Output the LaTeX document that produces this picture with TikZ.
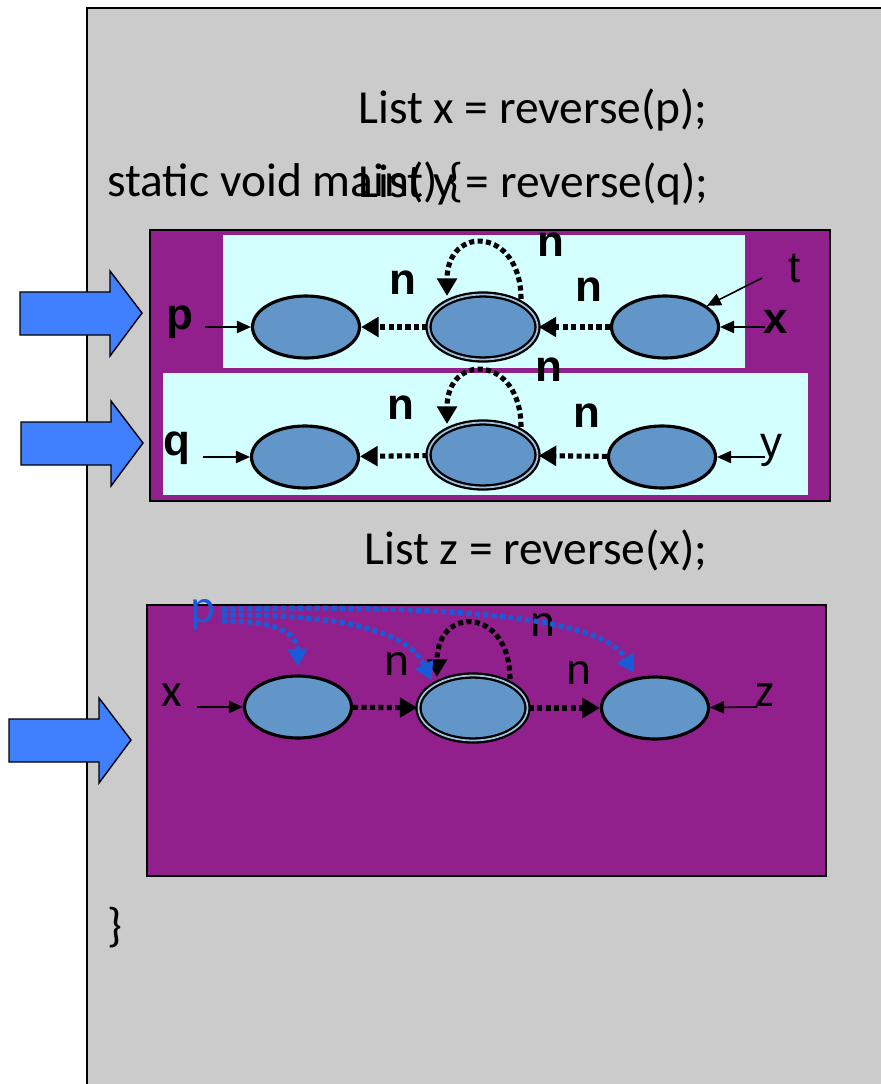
\documentclass[tikz,border=0pt]{standalone}
\usepackage{fontspec}
\setmainfont{Carlito}
\newfontfamily\lblfont{Liberation Sans}
\usetikzlibrary{positioning, arrows.meta, calc, shapes.geometric}

\definecolor{paneGray}{RGB}{203,203,203}
\definecolor{scopePurple}{RGB}{146,32,140}
\definecolor{heapCyan}{RGB}{212,255,255}
\definecolor{cellBlue}{RGB}{98,150,200}
\definecolor{stepBlue}{RGB}{64,128,255}
\definecolor{ptrBlue}{RGB}{25,90,215}

\begin{document}
\begin{tikzpicture}[x=0.02cm, y=0.02cm,
  code/.style   = {font=\fontsize{27}{32}\selectfont, inner sep=0pt, anchor=west},
  lbl/.style    = {font=\lblfont\bfseries\fontsize{25}{30}\selectfont, inner sep=0pt},
  thin/.style   = {font=\fontsize{27}{32}\selectfont, inner sep=0pt},
  cell/.style   = {ellipse, draw, line width=1.8pt, fill=cellBlue, inner sep=0pt,
                   minimum width=2.14cm, minimum height=1.24cm},
  shared/.style = {cell, line width=1.3pt, double=cellBlue!60!white, double distance=1pt,
                   minimum width=2.18cm, minimum height=1.3cm},
  ptr/.style    = {-{Triangle[length=10pt,width=11pt]}, line width=2.9pt,
                   dash pattern=on 2.9pt off 1.9pt},
  ref/.style    = {-{Triangle[length=8pt,width=7pt]}, line width=0.9pt},
  bigarrow/.style = {draw, line width=0.8pt, fill=stepBlue},
]
\useasboundingbox (0,0) rectangle (881,-1084);

% --- frame ---------------------------------------------------------------
\fill[paneGray] (87,-8) rectangle (881,-1084);
\draw[line width=0.8pt] (881,-8) -- (87,-8) -- (87,-1084);

% --- code ----------------------------------------------------------------
\node[code] (lx)    at (358,-110) {List x = reverse(p);};
\node[code] (main)  at (107,-182) {static void main() \{};
\node[code] (ly)    at (358,-184) {List y = reverse(q);};
\node[code] (lz)    at (364,-550) {List z = reverse(x);};
\node[code] (close) at (107,-928) {\}};

% --- scopes --------------------------------------------------------------
\draw[fill=scopePurple, line width=0.8pt] (150,-230) rectangle (830,-501);
\fill[heapCyan] (223,-235) rectangle (745,-368);
\fill[heapCyan] (163,-373) rectangle (808,-495);
\draw[fill=scopePurple, line width=0.8pt] (147,-605) rectangle (826,-876);

\foreach \tx/\ty in {142/313, 143/443, 131/740}
  \draw[bigarrow] (\tx,-\ty) -- ++(-32,42) -- ++(0,-21) -- ++(-90,0)
    -- ++(0,-43) -- ++(90,0) -- ++(0,-21) -- cycle;

% --- first list ----------------------------------------------------------
\node[cell]   (a1) at (306,-327) {};
\node[shared] (b1) at (483,-327) {};
\node[cell]   (c1) at (665,-327) {};

\node[lbl] (p1) at (180,-322) {p};
\node[lbl] (x1) at (776,-322) {x};
\node[lbl, font=\lblfont\fontsize{25}{30}\selectfont] (t1) at (795,-268) {t};
\coordinate (p1s) at (205,-327);
\coordinate (x1s) at (765,-327);
\coordinate (t1s) at (762,-278);
\draw[ref] (p1s) -- (a1);
\draw[ref] (x1s) -- (c1);
\draw[ref] (t1s) -- (c1);

\draw[ptr] (b1) -- node[lbl, above=17pt, pos=0.37] {n} (a1);
\draw[ptr] (c1) -- node[lbl, above=13pt, pos=0.29] {n} (b1);
\draw[ptr] ($(b1)+(38,28)$) .. controls +(0,72) and +(0,72) .. ($(b1)+(-36,31)$);
\node[lbl] (n1) at (551,-245) {n};

% --- second list ---------------------------------------------------------
\node[cell]   (a2) at (305,-457) {};
\node[shared] (b2) at (483,-455) {};
\node[cell]   (c2) at (662,-457) {};

\node[lbl] (q2) at (177,-448) {q};
\node[lbl, font=\lblfont\fontsize{25}{30}\selectfont] (y2) at (771,-450) {y};
\coordinate (q2s) at (203,-457);
\coordinate (y2s) at (765,-457);
\draw[ref] (q2s) -- (a2);
\draw[ref] (y2s) -- (c2);

\draw[ptr] (b2) -- node[lbl, above=19pt, pos=0.4] {n} (a2);
\draw[ptr] (c2) -- node[lbl, above=15pt, pos=0.29] {n} (b2);
\draw[ptr] ($(b2)+(38,28)$) .. controls +(0,72) and +(0,72) .. ($(b2)+(-36,31)$);
\node[lbl] (n2) at (549,-370) {n};

% --- reversed list -------------------------------------------------------
\node[cell]   (a3) at (298,-707) {};
\node[shared] (b3) at (473,-708) {};
\node[cell]   (c3) at (655,-708) {};

\node[thin] (x3) at (172,-695) {x};
\node[thin] (z3) at (765,-695) {z};
\coordinate (x3s) at (197,-707);
\coordinate (z3s) at (757,-707);
\draw[ref] (x3s) -- (a3);
\draw[ref] (z3s) -- (c3);

\draw[ptr] (a3) -- node[thin, above=17pt, pos=0.69] {n} (b3);
\draw[ptr] (b3) -- node[thin, above=12pt, pos=0.7] {n} (c3);
\draw[ptr] ($(b3)+(37,29)$) .. controls +(0,72) and +(0,72) .. ($(b3)+(-36,31)$);
\node[thin] (n3) at (543,-625) {n};

% --- p after the call ----------------------------------------------------
\node[thin, text=ptrBlue] (p3) at (203,-615) {p};
\coordinate (p3a) at (222,-621);
\coordinate (p3b) at (222,-615);
\coordinate (p3c) at (222,-609);
\draw[ptr, ptrBlue] (p3a) .. controls (275,-621) and (297,-632) .. ($(a3.north)+(0,8)$);
\draw[ptr, ptrBlue] (p3b) .. controls (370,-614) and (412,-640) .. ($(b3.north west)+(-2,4)$);
\draw[ptr, ptrBlue] (p3c) .. controls (520,-603) and (608,-628) .. ($(c3.north west)+(18,12)$);

\end{tikzpicture}
\end{document}
